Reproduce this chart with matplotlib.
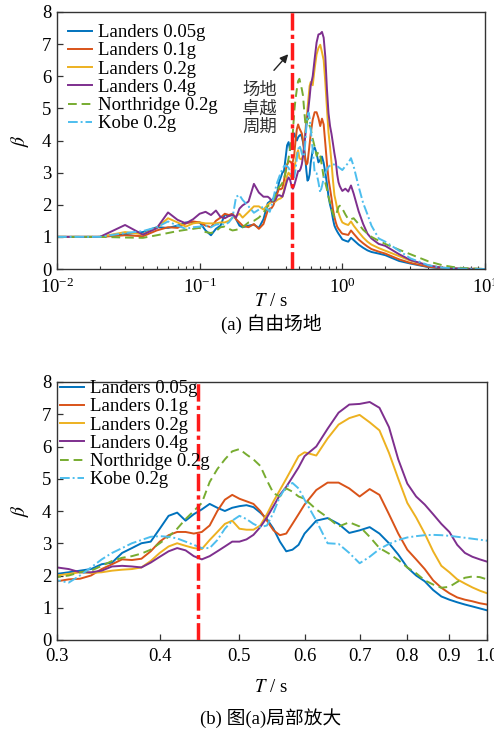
import matplotlib
matplotlib.use("Agg")
import matplotlib.pyplot as plt
from matplotlib.ticker import LogLocator, NullLocator, FixedLocator, FixedFormatter

plt.rcParams["font.family"] = ["Liberation Serif", "Noto Sans CJK SC"]
plt.rcParams["mathtext.fontset"] = "stix"

# Period grid (s)
periods = [0.01, 0.02, 0.03, 0.04, 0.05, 0.06, 0.07, 0.08, 0.09, 0.10,
           0.11, 0.12, 0.13, 0.14, 0.15, 0.16, 0.17, 0.18, 0.19, 0.20,
           0.22, 0.24, 0.26, 0.28,
           0.30, 0.31, 0.32, 0.33, 0.34, 0.35, 0.36, 0.37, 0.38, 0.39,
           0.40, 0.41, 0.42, 0.43, 0.44, 0.45, 0.46, 0.47, 0.48, 0.49,
           0.50, 0.51, 0.52, 0.53, 0.54, 0.55, 0.56, 0.57, 0.58, 0.59, 0.60,
           0.62, 0.64, 0.66, 0.68, 0.70, 0.72, 0.74, 0.76, 0.78, 0.80,
           0.82, 0.84, 0.86, 0.88, 0.90, 0.92, 0.94, 0.96, 0.98, 1.00,
           1.05, 1.1, 1.15, 1.2, 1.3, 1.4, 1.5, 1.6, 1.8, 2.0,
           2.5, 3.0, 4.0, 5.0, 6.0, 7.0, 10.0]

landers_005 = [1.0, 1.0, 1.08, 1.15, 1.3, 1.28, 1.35, 1.45, 1.45, 1.45,
               1.2, 1.05, 1.25, 1.35, 1.7, 1.65, 1.72, 1.55, 1.35, 1.3,
               1.35, 1.38, 1.28, 1.55,
               2.05, 2.1, 2.15, 2.2, 2.35, 2.4, 2.7, 2.85, 3.0, 3.05,
               3.45, 3.85, 3.95, 3.7, 3.9, 4.05, 4.22, 4.1, 4.0, 4.1,
               4.15, 4.18, 4.12, 3.95, 3.75, 3.45, 3.05, 2.75, 2.8, 2.95, 3.3,
               3.7, 3.78, 3.6, 3.32, 3.4, 3.5, 3.3, 3.0, 2.65, 2.25,
               2.0, 1.82, 1.55, 1.35, 1.25, 1.17, 1.1, 1.04, 0.98, 0.92,
               0.88, 0.85, 0.97, 0.9, 0.76, 0.66, 0.58, 0.53, 0.48, 0.43,
               0.25, 0.17, 0.06, 0.02, 0.01, 0.0, 0.0]

landers_01 = [1.0, 1.0, 1.05, 1.02, 1.2, 1.3, 1.28, 1.42, 1.48, 1.45,
              1.35, 1.3, 1.5, 1.6, 1.72, 1.68, 1.72, 1.55, 1.45, 1.35,
              1.3, 1.4, 1.25, 1.4,
              1.82, 1.88, 1.9, 2.0, 2.2, 2.35, 2.5, 2.48, 2.52, 2.75,
              3.05, 3.25, 3.35, 3.35, 3.3, 3.35, 3.55, 4.0, 4.35, 4.5,
              4.38, 4.3, 4.22, 4.0, 3.7, 3.4, 3.25, 3.3, 3.6, 3.9, 4.2,
              4.65, 4.88, 4.88, 4.7, 4.45, 4.68, 4.5, 3.9, 3.3, 2.8,
              2.5, 2.2, 1.85, 1.62, 1.45, 1.32, 1.25, 1.2, 1.14, 1.1,
              1.08, 1.06, 1.2, 1.1, 0.92, 0.8, 0.7, 0.62, 0.54, 0.48,
              0.3, 0.19, 0.07, 0.03, 0.01, 0.0, 0.0]

landers_02 = [1.0, 1.0, 1.15, 1.08, 1.28, 1.58, 1.45, 1.32, 1.42, 1.45,
              1.42, 1.42, 1.42, 1.45, 1.45, 1.5, 1.6, 1.65, 1.72, 1.6,
              1.78, 1.95, 1.95, 1.85,
              2.0, 2.05, 2.1, 2.08, 2.1, 2.15, 2.18, 2.2, 2.25, 2.45,
              2.7, 2.9, 3.0, 2.92, 2.85, 2.82, 3.1, 3.35, 3.6, 3.7,
              3.45, 3.42, 3.42, 3.55, 3.9, 4.3, 4.65, 5.0, 5.35, 5.7, 5.82,
              5.72, 6.25, 6.68, 6.88, 6.98, 6.75, 6.5, 5.8, 5.0, 4.25,
              3.8, 3.3, 2.75, 2.3, 2.1, 1.88, 1.75, 1.63, 1.53, 1.45,
              1.4, 1.37, 1.48, 1.35, 1.15, 0.98, 0.85, 0.76, 0.65, 0.57,
              0.4, 0.26, 0.11, 0.04, 0.02, 0.01, 0.0]

landers_04 = [1.0, 1.0, 1.37, 1.07, 1.27, 1.76, 1.53, 1.42, 1.55, 1.72,
              1.78, 1.68, 1.82, 1.62, 1.58, 1.65, 1.68, 1.6, 1.88, 1.98,
              2.1, 2.65, 2.38, 2.25,
              2.25, 2.2, 2.1, 2.1, 2.15, 2.28, 2.3, 2.28, 2.25, 2.4,
              2.58, 2.75, 2.85, 2.78, 2.6, 2.5, 2.6, 2.75, 2.9, 3.05,
              3.05, 3.12, 3.26, 3.5, 3.8, 4.15, 4.5, 4.75, 5.05, 5.35, 5.7,
              6.0, 6.55, 7.05, 7.3, 7.32, 7.38, 7.2, 6.6, 5.6, 4.85,
              4.45, 4.2, 3.9, 3.6, 3.35, 2.95, 2.7, 2.58, 2.5, 2.43,
              2.5, 2.41, 2.6, 2.35, 1.8, 1.4, 1.1, 0.95, 0.78, 0.72,
              0.46, 0.28, 0.11, 0.04, 0.02, 0.01, 0.0]

northridge_02 = [1.0, 1.0, 0.98, 0.97, 1.05, 1.12, 1.18, 1.22, 1.25, 1.28,
                 1.15, 1.12, 1.18, 1.3, 1.32, 1.25, 1.2, 1.22, 1.25, 1.3,
                 1.45, 1.5, 1.6, 1.75,
                 1.95, 2.0, 2.1, 2.15, 2.3, 2.45, 2.55, 2.6, 2.68, 2.8,
                 3.0, 3.2, 3.45, 3.75, 4.0, 4.25, 4.9, 5.3, 5.6, 5.85,
                 5.92, 5.75, 5.6, 5.4, 4.95, 4.55, 4.45, 4.7, 4.6, 4.45, 4.38,
                 4.05, 3.8, 3.52, 3.65, 3.52, 3.2, 2.85, 2.68, 2.48, 2.25,
                 2.07, 1.85, 1.72, 1.62, 1.65, 1.8, 1.93, 1.97, 1.95, 1.88,
                 1.7, 1.55, 1.55, 1.58, 1.4, 1.22, 1.1, 1.0, 0.88, 0.78,
                 0.6, 0.46, 0.24, 0.12, 0.06, 0.03, 0.0]

kobe_02 = [1.0, 1.0, 1.12, 1.18, 1.3, 1.48, 1.35, 1.25, 1.3, 1.32,
           1.35, 1.3, 1.38, 1.4, 1.38, 1.45, 1.6, 2.25, 2.3, 2.15,
           1.95, 1.75, 1.85, 1.95,
           1.85, 1.78, 2.0, 2.25, 2.5, 2.7, 2.85, 3.0, 3.1, 3.2,
           3.22, 3.2, 3.15, 3.05, 2.95, 2.85, 2.85, 3.1, 3.45, 3.7,
           3.85, 3.75, 3.6, 3.5, 3.55, 3.95, 4.45, 4.75, 4.87, 4.7, 4.35,
           3.7, 3.0, 2.98, 2.7, 2.38, 2.58, 2.82, 2.98, 3.1, 3.18,
           3.22, 3.25, 3.26, 3.25, 3.23, 3.2, 3.17, 3.14, 3.11, 3.08,
           3.2, 3.3, 3.45, 3.2, 2.57, 2.05, 1.7, 1.35, 0.95, 0.85,
           0.57, 0.33, 0.12, 0.04, 0.02, 0.01, 0.0]

site_period = 0.445

series = [
    ("Landers 0.05g", landers_005, "#0072BD", "-"),
    ("Landers 0.1g", landers_01, "#D95319", "-"),
    ("Landers 0.2g", landers_02, "#EDB120", "-"),
    ("Landers 0.4g", landers_04, "#7E2F8E", "-"),
    ("Northridge 0.2g", northridge_02, "#77AC30", (0, (4.5, 2.5))),
    ("Kobe 0.2g", kobe_02, "#4DBEEE", (0, (5, 1.5, 1, 1.5))),
]

W, H = 494, 733
fig = plt.figure(figsize=(W / 100, H / 100), dpi=100)
ax1 = fig.add_axes([57 / W, 1 - 269 / H, 428 / W, 257 / H])
ax2 = fig.add_axes([57 / W, 1 - 640 / H, 430 / W, 258 / H])

tick_fs = 13.5
spine_col = "#333333"


def style_axes(ax):
    for s in ax.spines.values():
        s.set_color(spine_col)
        s.set_linewidth(1.0)
    ax.set_ylim(0, 8)
    ax.set_yticks(range(0, 9))
    ax.tick_params(axis="both", which="major", direction="in", length=4,
                   width=0.9, color=spine_col, labelsize=tick_fs,
                   top=False, right=False)
    ax.tick_params(axis="x", which="major", pad=6)
    ax.tick_params(axis="y", which="major", pad=4)
    ax.tick_params(axis="both", which="minor", direction="in", length=2.5,
                   width=0.8, color=spine_col, top=False, right=False)
    ax.set_ylabel(r"$\beta$", fontsize=14, labelpad=8)


for ax in (ax1, ax2):
    for label, vals, col, ls in series:
        ax.plot(periods, vals, color=col, linestyle=ls, lw=1.4, label=label)
    ax.axvline(site_period, color="#FF1A1A", lw=2.5,
               linestyle=(0, (5, 1.2, 1.2, 1.2)), zorder=5)
    ax.set_xscale("log")
    style_axes(ax)

ax1.set_xlim(0.01, 10)
ax1.xaxis.set_major_locator(LogLocator(base=10, numticks=10))
ax1.xaxis.set_minor_locator(LogLocator(base=10, subs=range(2, 10), numticks=20))

xt = [0.3, 0.4, 0.5, 0.6, 0.7, 0.8, 0.9, 1.0]
ax2.set_xlim(0.3, 1.0)
ax2.xaxis.set_major_locator(FixedLocator(xt))
ax2.xaxis.set_major_formatter(FixedFormatter([f"{v:.1f}" for v in xt]))
ax2.xaxis.set_minor_locator(NullLocator())

leg_kw = dict(frameon=False, fontsize=13.5, labelspacing=0.06,
              handlelength=1.3, handletextpad=0.3, borderpad=0.0,
              borderaxespad=0.0, loc="upper left")
ax1.legend(bbox_to_anchor=(11 / 428, 1 - 12 / 257), **leg_kw)
ax2.legend(bbox_to_anchor=(3 / 430, 1 + 2 / 258), **leg_kw)

# annotation for the site predominant period
ax1.annotate("", xy=(0.43, 6.75), xytext=(0.322, 6.12),
             arrowprops=dict(arrowstyle="-|>", color="#222222", lw=1.0,
                             mutation_scale=12))
ax1.text(0.262, 5.0, "场地\n卓越\n周期", ha="center", va="center",
         fontsize=12.5, color="#333333", linespacing=1.05,
         family=["Noto Sans CJK SC"])

lab_kw = dict(ha="center", va="center", fontsize=13.5)
fig.text(271 / W, 1 - 302 / H, r"$T$ / s", **lab_kw)
fig.text(271 / W, 1 - 324 / H, "(a) 自由场地", **lab_kw)
fig.text(271 / W, 1 - 688 / H, r"$T$ / s", **lab_kw)
fig.text(271 / W, 1 - 718 / H, "(b) 图(a)局部放大", **lab_kw)

fig.savefig("out.png", dpi=100)
